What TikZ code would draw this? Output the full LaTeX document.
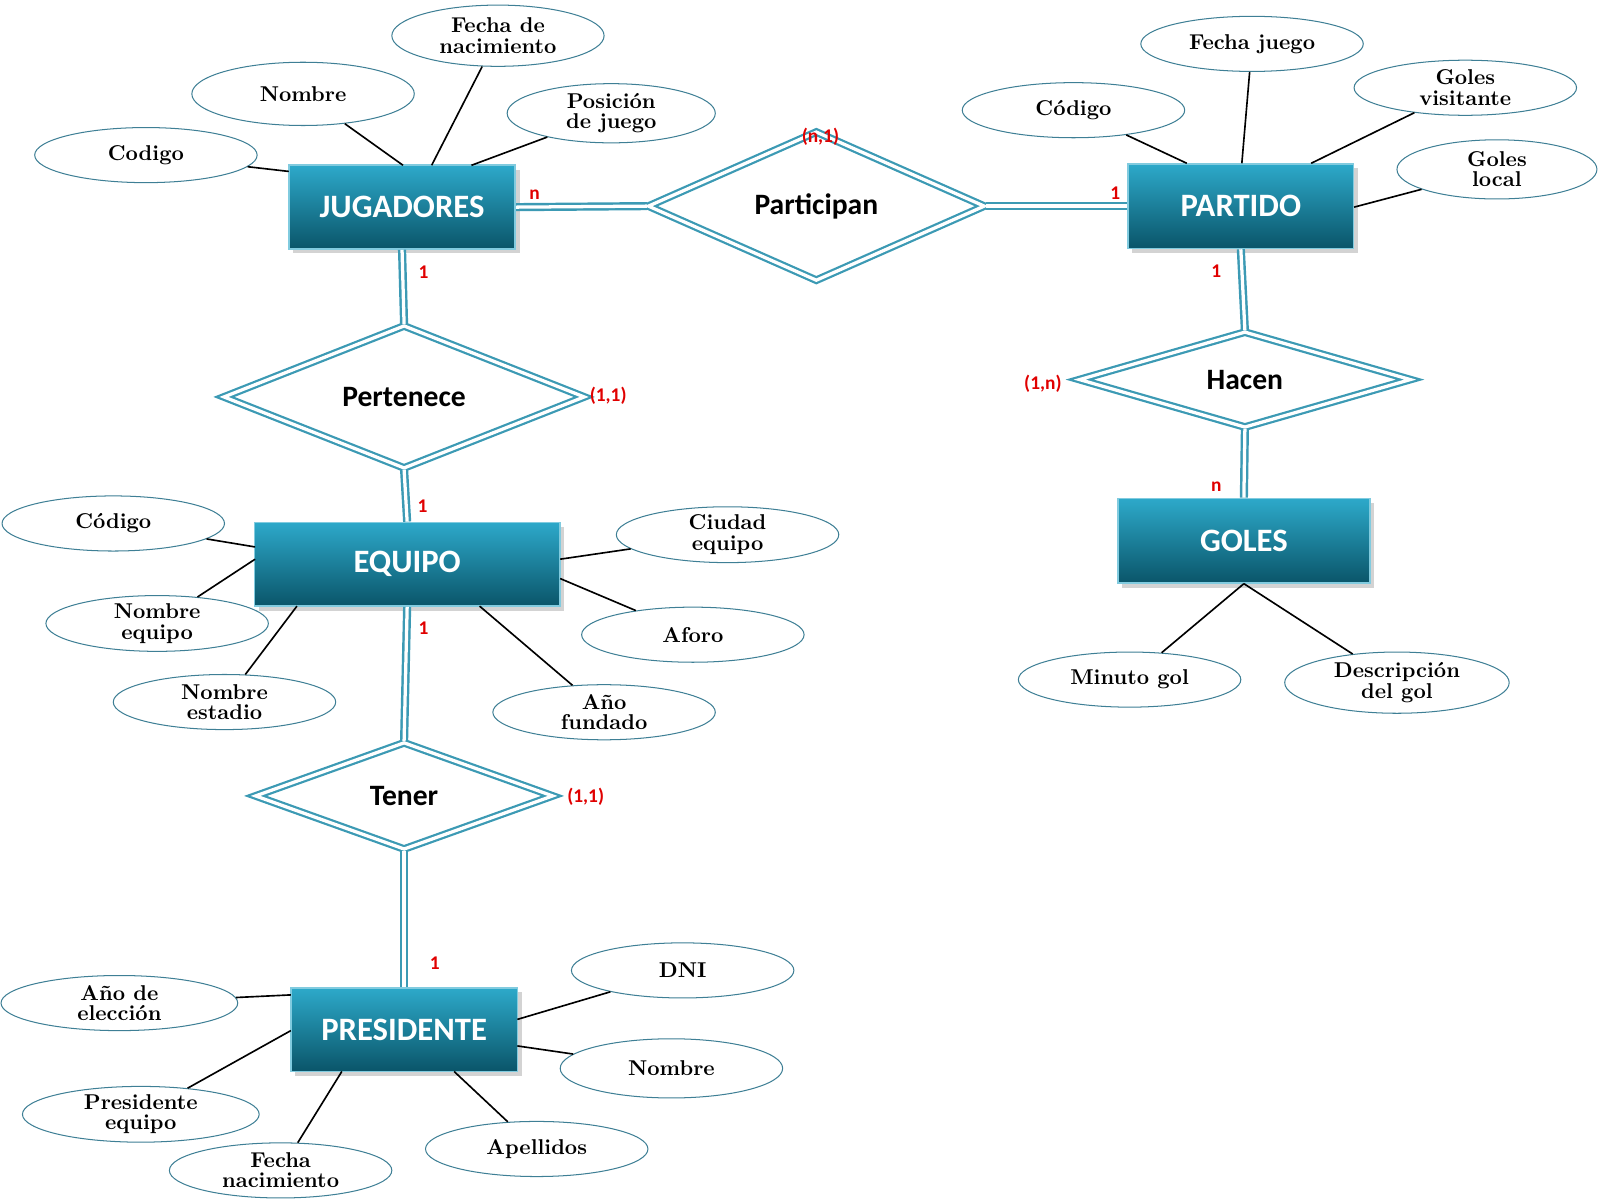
\documentclass[tikz,border=0pt]{standalone}
\usepackage{fontspec}
\newfontfamily\carlitofont{Carlito}
\usetikzlibrary{shapes.geometric,shadows}
\definecolor{tealA}{HTML}{2DA9CA}
\definecolor{tealB}{HTML}{0A5569}
\definecolor{rel}{HTML}{3C9AB4}
\definecolor{ell}{HTML}{3E7F95}
\definecolor{redl}{HTML}{E00000}
\begin{document}
\begin{tikzpicture}[x=0.5pt,y=-0.5pt,
 ent/.style={rectangle,top color=tealA,bottom color=tealB,draw=tealA!60!white,line width=0.8pt,
   text=white,font=\carlitofont\bfseries\fontsize{16}{18}\selectfont,drop shadow={opacity=0.35}},
 rl/.style={diamond,draw=rel,line width=1.1pt,double=white,double distance=1.6pt,fill=white,inner sep=0pt,
   font=\carlitofont\bfseries\fontsize{14.5}{16}\selectfont},
 attr/.style={ellipse,draw=ell,line width=0.5pt,fill=white,inner sep=0pt,minimum width=109pt,minimum height=27pt,
   align=center,font=\fontsize{10.5}{10}\selectfont\bfseries},
 ln/.style={black,line width=0.8pt},
 dl/.style={rel,line width=1.2pt,double=white,double distance=1.6pt},
 lb/.style={text=redl,font=\carlitofont\bfseries\fontsize{9.5}{10}\selectfont,inner sep=0pt}]
\useasboundingbox (0,0) rectangle (1568,1176);
% entities
\node[ent,minimum width=111pt,minimum height=41pt] (jug) at (394,203) {JUGADORES};
\node[ent,minimum width=110.5pt,minimum height=41.5pt] (par) at (1216,202) {PARTIDO};
\node[ent,minimum width=149.5pt,minimum height=41pt] (equ) at (399,553) {EQUIPO};
\node[ent,minimum width=123.5pt,minimum height=41.5pt] (gol) at (1219,530) {GOLES};
\node[ent,minimum width=111pt,minimum height=41pt] (pre) at (396,1009) {PRESIDENTE};
% relationships
\node[rl,minimum width=165pt,minimum height=55pt] (rpa) at (800,202) {Participan};
\node[rl,minimum width=177pt,minimum height=42.5pt] (rpe) at (396,389) {Pertenece};
\node[rl,minimum width=162.5pt,minimum height=42pt] (rha) at (1220,372) {Hacen};
\node[rl,minimum width=146pt,minimum height=52.5pt] (rte) at (396,780) {Tener};
\draw[dl] (jug.east) -- (rpa.west);
\draw[dl] (rpa.east) -- (par.west);
\draw[dl] (jug.south) -- (rpe.north);
\draw[dl] (rpe.south) -- (equ.north);
\draw[dl] (equ.south) -- (rte.north);
\draw[dl] (rte.south) -- (pre.north);
\draw[dl] (par.south) -- (rha.north);
\draw[dl] (rha.south) -- (gol.north);
% attributes
\node[attr] (a1) at (143,152) {Codigo};
\node[attr,minimum height=31pt] (a2) at (297,92) {Nombre};
\node[attr,minimum width=104pt,minimum height=30pt] (a3) at (488,35) {Fecha de\\nacimiento};
\node[attr,minimum width=102pt,minimum height=29pt] (a4) at (599,111) {Posición\\de juego};
\node[attr] (b1) at (1052,108) {Código};
\node[attr] (b2) at (1227,43) {Fecha juego};
\node[attr] (b3) at (1436,86) {Goles\\visitante};
\node[attr,minimum width=98pt,minimum height=29pt] (b4) at (1467,166) {Goles\\local};
\node[attr] (c1) at (111,513) {Código};
\node[attr] (c2) at (154,611) {Nombre\\equipo};
\node[attr] (c3) at (220,688) {Nombre\\estadio};
\node[attr] (c4) at (713,524) {Ciudad\\equipo};
\node[attr] (c5) at (679,622) {Aforo};
\node[attr] (c6) at (592,698) {Año\\fundado};
\node[attr] (d1) at (1107,666) {Minuto gol};
\node[attr,minimum width=110pt,minimum height=30pt] (d2) at (1369,669) {Descripción\\del gol};
\node[attr,minimum width=116pt] (e1) at (117,983) {Año de\\elección};
\node[attr] (e2) at (669,951) {DNI};
\node[attr,minimum height=29pt] (e3) at (658,1047) {Nombre};
\node[attr,minimum width=116pt] (e4) at (138,1092) {Presidente\\equipo};
\node[attr] (e5) at (275,1147) {Fecha\\nacimiento};
\node[attr] (e6) at (526,1126) {Apellidos};
% attribute lines
\coordinate (j1) at (283,168); \coordinate (j2) at (395,162); \coordinate (j3) at (423,162); \coordinate (j4) at (462,162);
\draw[ln] (a1) -- (j1); \draw[ln] (a2) -- (j2); \draw[ln] (a3) -- (j3); \draw[ln] (a4) -- (j4);
\coordinate (p1) at (1163,160); \coordinate (p2) at (1217,160); \coordinate (p3) at (1285,160); \coordinate (p4) at (1327,203);
\draw[ln] (b1) -- (p1); \draw[ln] (b2) -- (p2); \draw[ln] (b3) -- (p3); \draw[ln] (b4) -- (p4);
\coordinate (q1) at (250,536); \coordinate (q2) at (250,548); \coordinate (q3) at (291,594);
\coordinate (q4) at (549,548); \coordinate (q5) at (549,567); \coordinate (q6) at (470,594);
\draw[ln] (c1) -- (q1); \draw[ln] (c2) -- (q2); \draw[ln] (c3) -- (q3);
\draw[ln] (c4) -- (q4); \draw[ln] (c5) -- (q5); \draw[ln] (c6) -- (q6);
\coordinate (g0) at (1219,572);
\draw[ln] (d1) -- (g0); \draw[ln] (d2) -- (g0);
\coordinate (r1) at (285,975); \coordinate (r2) at (507,999); \coordinate (r3) at (507,1025);
\coordinate (r4) at (285,1010); \coordinate (r5) at (335,1050); \coordinate (r6) at (445,1050);
\draw[ln] (e1) -- (r1); \draw[ln] (e2) -- (r2); \draw[ln] (e3) -- (r3);
\draw[ln] (e4) -- (r4); \draw[ln] (e5) -- (r5); \draw[ln] (e6) -- (r6);
% cardinalities
\node[lb] (l1) at (524,191) {n};
\node[lb] (l2) at (1093,189) {1};
\node[lb] (l3) at (804,134) {(n,1)};
\node[lb] (l4) at (415,267) {1};
\node[lb] (l5) at (596,388) {(1,1)};
\node[lb] (l6) at (414,496) {1};
\node[lb] (l7) at (415,616) {1};
\node[lb] (l8) at (574,781) {(1,1)};
\node[lb] (l9) at (426,944) {1};
\node[lb] (l10) at (1192,266) {1};
\node[lb] (l11) at (1022,376) {(1,n)};
\node[lb] (l12) at (1192,477) {n};
\end{tikzpicture}
\end{document}
